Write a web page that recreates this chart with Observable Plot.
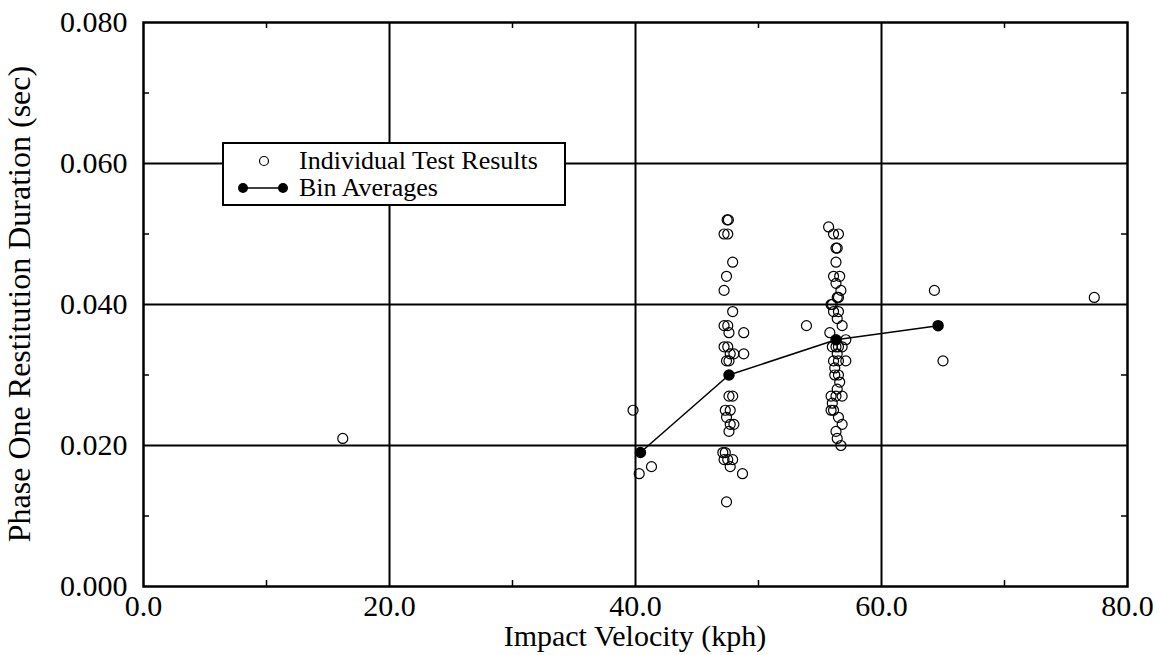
<!DOCTYPE html>
<html><head><meta charset="utf-8">
<script src="https://cdn.jsdelivr.net/npm/d3@7"></script>
<script src="https://cdn.jsdelivr.net/npm/@observablehq/plot@0.6"></script>
<style>body{margin:0;background:#fff} svg{display:block}</style>
</head><body><div id="chart"></div>
<script>
// Individual test results
const testVelocity = [
  16.2, 39.8, 40.3, 41.3, 53.9, 64.3, 65.0, 77.3,
  47.45, 47.55, 47.2, 47.5, 47.9, 47.4, 47.2, 47.9, 47.2, 47.5, 47.6, 48.8,
  47.2, 47.5, 47.7, 48.0, 48.8, 47.4, 47.6, 47.6, 47.9, 47.3, 47.7, 47.4,
  47.7, 48.0, 47.6, 47.1, 47.3, 47.2, 47.5, 47.9, 47.7, 48.7, 47.4,
  55.7, 56.1, 56.5, 56.3, 56.4, 56.3, 56.1, 56.6, 56.3, 56.7, 56.4, 56.5,
  55.9, 56.0, 56.1, 56.5, 56.4, 56.8, 55.8, 57.1, 56.0, 56.3, 56.5, 56.8,
  56.4, 56.1, 56.5, 57.1, 56.2, 56.2, 56.5, 56.6, 56.4, 55.9, 56.3, 56.8,
  56.0, 55.9, 56.1, 56.5, 56.8, 56.3, 56.4, 56.7
];
const testDuration = [
  0.021, 0.025, 0.016, 0.017, 0.037, 0.042, 0.032, 0.041,
  0.052, 0.052, 0.050, 0.050, 0.046, 0.044, 0.042, 0.039, 0.037, 0.037, 0.036, 0.036,
  0.034, 0.034, 0.033, 0.033, 0.033, 0.032, 0.032, 0.027, 0.027, 0.025, 0.025, 0.024,
  0.023, 0.023, 0.022, 0.019, 0.019, 0.018, 0.018, 0.018, 0.017, 0.016, 0.012,
  0.051, 0.050, 0.050, 0.048, 0.048, 0.046, 0.044, 0.044, 0.043, 0.042, 0.041, 0.041,
  0.040, 0.040, 0.039, 0.039, 0.038, 0.037, 0.036, 0.035, 0.034, 0.034, 0.034, 0.034,
  0.033, 0.032, 0.032, 0.032, 0.031, 0.030, 0.030, 0.029, 0.028, 0.027, 0.027, 0.027,
  0.026, 0.025, 0.025, 0.024, 0.023, 0.022, 0.021, 0.020
];
// Bin averages
const binVelocity = [40.4, 47.6, 56.3, 64.6];
const binDuration = [0.019, 0.030, 0.035, 0.037];
// Ticks
const xTicks = [0, 20, 40, 60, 80];
const yTicks = [0, 0.02, 0.04, 0.06, 0.08];
const xMinor = [10, 30, 50, 70];
const yMinor = [0.01, 0.03, 0.05, 0.07];
const xGrid = [20, 40, 60];
const yGrid = [0.02, 0.04, 0.06];
const xTitle = "Impact Velocity (kph)";
const yTitle = "Phase One Restitution Duration (sec)";
const legendLabels = ["Individual Test Results", "Bin Averages"];

const tests = testVelocity.map((v, i) => ({v, d: testDuration[i]}));
const bins = binVelocity.map((v, i) => ({v, d: binDuration[i]}));

const W = 1160, H = 655, ML = 143, MR = 33, MT = 22, MB = 69;
const PW = W - ML - MR, PH = H - MT - MB;
const font = "'Liberation Serif', 'Times New Roman', serif";

const chart = Plot.plot({
  width: W, height: H,
  marginLeft: ML, marginRight: MR, marginTop: MT, marginBottom: MB,
  style: {fontFamily: font, background: "#fff", color: "#000"},
  x: {domain: [0, 80]},
  y: {domain: [0, 0.08]},
  marks: [
    Plot.ruleX(xGrid, {x: d => d, stroke: "#000", strokeWidth: 2}),
    Plot.ruleY(yGrid, {y: d => d, stroke: "#000", strokeWidth: 2}),
    Plot.tickX(xMinor, {x: d => d, insetTop: PH - 6, stroke: "#000", strokeWidth: 1.5}),
    Plot.tickX(xMinor, {x: d => d, insetBottom: PH - 6, stroke: "#000", strokeWidth: 1.5}),
    Plot.tickY(yMinor, {y: d => d, insetRight: PW - 6, stroke: "#000", strokeWidth: 1.5}),
    Plot.tickY(yMinor, {y: d => d, insetLeft: PW - 6, stroke: "#000", strokeWidth: 1.5}),
    Plot.frame({stroke: "#000", strokeWidth: 2.5}),
    Plot.axisX(xTicks, {tickSize: 0, tickPadding: 8, fontSize: 30, tickFormat: d => d.toFixed(1), label: null}),
    Plot.axisY(yTicks, {tickSize: 0, tickPadding: 16, fontSize: 30, tickFormat: d => d.toFixed(3), label: null}),
    Plot.line(bins, {x: "v", y: "d", stroke: "#000", strokeWidth: 1.5}),
    Plot.dot(tests, {x: "v", y: "d", r: 5, stroke: "#000", fill: "none", strokeWidth: 1.2}),
    Plot.dot(bins, {x: "v", y: "d", r: 5, fill: "#000", stroke: "#000"})
  ]
});

const svg = d3.select(chart);
// Axis titles
svg.append("text")
  .attr("x", ML + PW / 2).attr("y", 646)
  .attr("text-anchor", "middle")
  .attr("font-family", font).attr("font-size", 30).attr("fill", "#000")
  .text(xTitle);
svg.append("text")
  .attr("transform", `translate(30,${MT + PH / 2}) rotate(-90)`)
  .attr("text-anchor", "middle")
  .attr("font-family", font).attr("font-size", 32).attr("fill", "#000")
  .text(yTitle);

// Legend
const lg = svg.append("g");
lg.append("rect").attr("x", 223).attr("y", 143).attr("width", 342).attr("height", 62)
  .attr("fill", "#fff").attr("stroke", "#000").attr("stroke-width", 2);
lg.append("circle").attr("cx", 264).attr("cy", 161).attr("r", 4.5)
  .attr("fill", "none").attr("stroke", "#000").attr("stroke-width", 1.2);
lg.append("line").attr("x1", 243).attr("x2", 283).attr("y1", 188).attr("y2", 188)
  .attr("stroke", "#000").attr("stroke-width", 1.5);
[243, 283].forEach(cx => lg.append("circle").attr("cx", cx).attr("cy", 188).attr("r", 5).attr("fill", "#000"));
legendLabels.forEach((t, i) => lg.append("text")
  .attr("x", 299).attr("y", 169 + i * 27)
  .attr("text-anchor", "start")
  .attr("font-family", font).attr("font-size", 26).attr("fill", "#000")
  .text(t));

document.getElementById("chart").appendChild(chart);
</script>
</body></html>
